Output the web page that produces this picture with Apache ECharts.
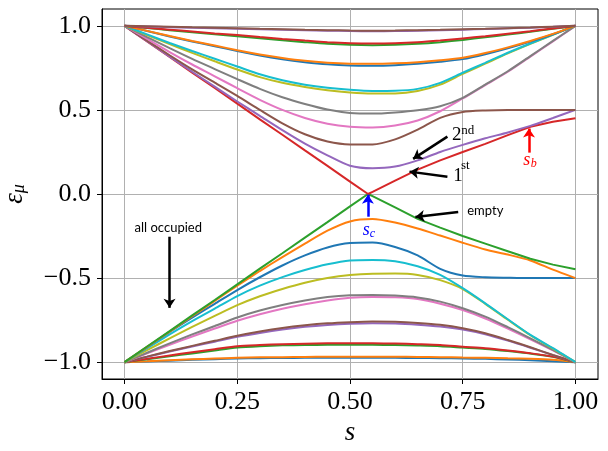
<!DOCTYPE html>
<html>
<head>
<meta charset="utf-8">
<script src="https://cdn.jsdelivr.net/npm/echarts@6/dist/echarts.min.js"></script>
<style>
  html, body { margin: 0; padding: 0; background: #fff; }
  #chart { width: 608px; height: 451px; }
</style>
</head>
<body>
<div id="chart"></div>
<script>
// sweep parameter s (shared grid) and a grid with the gap-closing point for the two middle levels
const s = [0, 0.05, 0.1, 0.15, 0.2, 0.25, 0.3, 0.35, 0.4, 0.45, 0.5,
           0.55, 0.6, 0.65, 0.7, 0.75, 0.8, 0.85, 0.9, 0.95, 1]
const sKink = [0, 0.05, 0.1, 0.15, 0.2, 0.25, 0.3, 0.35, 0.4, 0.45, 0.5, 0.54,
               0.55, 0.6, 0.65, 0.7, 0.75, 0.8, 0.85, 0.9, 0.95, 1]
const xTicks = [0, 0.25, 0.5, 0.75, 1]
const yTicks = [-1, -0.5, 0, 0.5, 1]

// single-particle levels eps_mu(s), mu = 0 (lowest) ... 25 (highest)
const e0 = [-1, -0.996, -0.991, -0.986, -0.982, -0.978, -0.976, -0.975, -0.974, -0.974, -0.974,
            -0.974, -0.974, -0.975, -0.976, -0.978, -0.98, -0.984, -0.988, -0.994, -1]
const e1 = [-1, -0.995, -0.989, -0.983, -0.978, -0.974, -0.971, -0.97, -0.969, -0.968, -0.968,
            -0.968, -0.968, -0.969, -0.97, -0.972, -0.974, -0.977, -0.98, -0.986, -1]
const e2 = [-1, -0.982, -0.965, -0.948, -0.93, -0.913, -0.905, -0.9, -0.898, -0.897, -0.897,
            -0.897, -0.898, -0.901, -0.905, -0.913, -0.921, -0.934, -0.949, -0.968, -1]
const e3 = [-1, -0.98, -0.96, -0.941, -0.923, -0.905, -0.898, -0.893, -0.89, -0.888, -0.887,
            -0.888, -0.889, -0.893, -0.898, -0.908, -0.917, -0.931, -0.947, -0.967, -1]
const e4 = [-1, -0.968, -0.937, -0.907, -0.878, -0.849, -0.826, -0.806, -0.79, -0.779, -0.772,
            -0.769, -0.77, -0.777, -0.788, -0.806, -0.834, -0.872, -0.914, -0.958, -1]
const e5 = [-1, -0.967, -0.934, -0.903, -0.873, -0.843, -0.818, -0.797, -0.781, -0.769, -0.762,
            -0.758, -0.76, -0.767, -0.778, -0.798, -0.828, -0.868, -0.911, -0.957, -1]
const e6 = [-1, -0.948, -0.897, -0.847, -0.8, -0.754, -0.715, -0.682, -0.655, -0.633, -0.617,
            -0.612, -0.614, -0.624, -0.652, -0.69, -0.74, -0.8, -0.864, -0.93, -1]
const e7 = [-1, -0.944, -0.888, -0.835, -0.785, -0.734, -0.693, -0.66, -0.633, -0.613, -0.602,
            -0.6, -0.604, -0.615, -0.64, -0.679, -0.729, -0.792, -0.858, -0.927, -1]
const e8 = [-1, -0.929, -0.858, -0.79, -0.725, -0.661, -0.608, -0.565, -0.528, -0.5, -0.482,
            -0.474, -0.473, -0.481, -0.512, -0.565, -0.653, -0.748, -0.84, -0.919, -1]
const e9 = [-1, -0.917, -0.835, -0.756, -0.682, -0.607, -0.545, -0.494, -0.452, -0.418, -0.395,
            -0.392, -0.4, -0.43, -0.481, -0.56, -0.65, -0.745, -0.838, -0.917, -1]
const e10 = [-1, -0.91, -0.82, -0.735, -0.653, -0.571, -0.495, -0.425, -0.365, -0.318, -0.292,
             -0.289, -0.315, -0.365, -0.445, -0.485, -0.495, -0.498, -0.5, -0.5, -0.5]
const e11 = [-1, -0.909, -0.818, -0.727, -0.636, -0.545, -0.458, -0.375, -0.295, -0.218, -0.163,
             -0.149, -0.17, -0.205, -0.247, -0.29, -0.33, -0.36, -0.395, -0.45, -0.5]
const e12 = [-1, -0.907, -0.815, -0.722, -0.63, -0.537, -0.444, -0.352, -0.259, -0.167, -0.074, 0,
             -0.013, -0.08, -0.148, -0.2, -0.25, -0.295, -0.34, -0.385, -0.42, -0.448]
const e13 = [1, 0.907, 0.815, 0.722, 0.63, 0.537, 0.444, 0.352, 0.259, 0.167, 0.074, 0,
             0.013, 0.08, 0.145, 0.2, 0.25, 0.298, 0.35, 0.4, 0.43, 0.45]
const e14 = [1, 0.908, 0.817, 0.727, 0.638, 0.55, 0.465, 0.38, 0.3, 0.23, 0.168,
             0.153, 0.163, 0.2, 0.25, 0.292, 0.331, 0.366, 0.405, 0.452, 0.5]
const e15 = [1, 0.912, 0.825, 0.741, 0.662, 0.583, 0.5, 0.42, 0.355, 0.312, 0.295,
             0.295, 0.325, 0.383, 0.453, 0.488, 0.497, 0.5, 0.5, 0.5, 0.5]
const e16 = [1, 0.922, 0.844, 0.77, 0.7, 0.629, 0.56, 0.5, 0.452, 0.418, 0.4,
             0.396, 0.407, 0.437, 0.492, 0.568, 0.648, 0.727, 0.817, 0.907, 1]
const e17 = [1, 0.933, 0.867, 0.803, 0.743, 0.683, 0.625, 0.575, 0.535, 0.502, 0.482,
             0.478, 0.485, 0.498, 0.522, 0.572, 0.651, 0.73, 0.82, 0.91, 1]
const e18 = [1, 0.945, 0.891, 0.839, 0.789, 0.74, 0.695, 0.661, 0.636, 0.617, 0.604,
             0.598, 0.598, 0.612, 0.65, 0.714, 0.775, 0.836, 0.893, 0.947, 1]
const e19 = [1, 0.949, 0.898, 0.85, 0.804, 0.758, 0.712, 0.676, 0.65, 0.632, 0.62,
             0.613, 0.614, 0.625, 0.661, 0.721, 0.78, 0.84, 0.895, 0.948, 1]
const e20 = [1, 0.969, 0.937, 0.907, 0.879, 0.85, 0.823, 0.801, 0.784, 0.771, 0.764,
             0.763, 0.766, 0.774, 0.786, 0.802, 0.831, 0.866, 0.906, 0.95, 1]
const e21 = [1, 0.97, 0.939, 0.91, 0.883, 0.855, 0.83, 0.809, 0.792, 0.781, 0.775,
             0.774, 0.777, 0.784, 0.795, 0.81, 0.838, 0.872, 0.91, 0.952, 1]
const e22 = [1, 0.987, 0.974, 0.962, 0.95, 0.938, 0.926, 0.914, 0.903, 0.893, 0.887,
             0.885, 0.887, 0.893, 0.903, 0.916, 0.932, 0.948, 0.965, 0.982, 1]
const e23 = [1, 0.988, 0.977, 0.966, 0.955, 0.945, 0.933, 0.922, 0.912, 0.903, 0.897,
             0.895, 0.897, 0.903, 0.913, 0.925, 0.938, 0.953, 0.968, 0.984, 1]
const e24 = [1, 0.996, 0.992, 0.988, 0.985, 0.982, 0.979, 0.976, 0.973, 0.971, 0.969,
             0.968, 0.969, 0.971, 0.974, 0.977, 0.981, 0.985, 0.989, 0.994, 1]
const e25 = [1, 0.997, 0.994, 0.991, 0.989, 0.986, 0.982, 0.979, 0.976, 0.974, 0.972,
             0.971, 0.972, 0.974, 0.976, 0.979, 0.982, 0.986, 0.990, 0.995, 1]

const levels = [e0, e1, e2, e3, e4, e5, e6, e7, e8, e9, e10, e11, e12,
                e13, e14, e15, e16, e17, e18, e19, e20, e21, e22, e23, e24, e25]
const palette = ['#1f77b4', '#ff7f0e', '#2ca02c', '#d62728', '#9467bd',
                 '#8c564b', '#e377c2', '#7f7f7f', '#bcbd22', '#17becf']

const serif = '"Liberation Serif", "DejaVu Serif", serif'
const sans = 'Lato, "Noto Sans", sans-serif'

const chart = echarts.init(document.getElementById('chart'))

const fmt = (ticks, digits) => v => {
  const hit = ticks.some(t => Math.abs(t - v) < 1e-6)
  return hit ? v.toFixed(digits).replace('-', '\u2212') : ''
}

const lineSeries = levels.map((vals, mu) => {
  const xs = vals.length === sKink.length ? sKink : s
  return {
    type: 'line',
    data: xs.map((x, i) => [x, vals[i]]),
    showSymbol: false,
    smooth: xs === sKink ? false : 0.25,
    lineStyle: { width: 2, color: palette[mu % 10] },
    itemStyle: { color: palette[mu % 10] },
    z: 2 + mu * 0.01,
    silent: true,
  }
})

// annotation arrows, [tail, head] in data coordinates
const arrows = [
  { coords: [[0.716, 0.341], [0.640, 0.209]], color: '#000' },
  { coords: [[0.716, 0.103], [0.632, 0.133]], color: '#000' },
  { coords: [[0.740, -0.107], [0.645, -0.137]], color: '#000' },
  { coords: [[0.0998, -0.254], [0.0998, -0.677]], color: '#000' },
  { coords: [[0.897, 0.246], [0.897, 0.389]], color: '#ff0000' },
  { coords: [[0.5397, -0.135], [0.5397, -0.004]], color: '#0000ff' },
]

chart.setOption({
  animation: false,
  backgroundColor: '#fff',
  grid: { left: 102, right: 10, top: 9, bottom: 72, show: true, borderColor: '#000', borderWidth: 1,
          containLabel: false, outerBoundsMode: 'none' },
  xAxis: {
    type: 'value', min: -0.05, max: 1.05, minInterval: 0.25, maxInterval: 0.25,
    name: 's', nameLocation: 'middle', nameGap: 36,
    nameTextStyle: { fontFamily: serif, fontStyle: 'italic', fontSize: 27, color: '#000' },
    axisLine: { show: true, onZero: false, lineStyle: { color: '#000', width: 1 } },
    axisTick: { show: true, length: 5, lineStyle: { color: '#000' }, customValues: xTicks },
    axisLabel: { fontFamily: serif, fontSize: 26, color: '#000', margin: 10,
                 formatter: fmt(xTicks, 2), customValues: xTicks },
    splitLine: { show: true, lineStyle: { color: '#b0b0b0', width: 1 } },
  },
  yAxis: {
    type: 'value', min: -1.1, max: 1.1, minInterval: 0.5, maxInterval: 0.5,
    name: '{e|\u03b5}{m|\u03bc}', nameLocation: 'middle', nameGap: 70, nameRotate: 90,
    nameTextStyle: {
      color: '#000',
      rich: {
        e: { fontFamily: serif, fontStyle: 'italic', fontSize: 27, lineHeight: 27, verticalAlign: 'top', padding: [0, 0, 5, 0] },
        m: { fontFamily: serif, fontStyle: 'italic', fontSize: 18, lineHeight: 18, verticalAlign: 'bottom' },
      },
    },
    axisLine: { show: true, onZero: false, lineStyle: { color: '#000', width: 1 } },
    axisTick: { show: true, length: 5, lineStyle: { color: '#000' }, customValues: yTicks },
    axisLabel: { fontFamily: serif, fontSize: 26, color: '#000', margin: 11,
                 formatter: fmt(yTicks, 1), customValues: yTicks },
    splitLine: { show: true, lineStyle: { color: '#b0b0b0', width: 1 } },
  },
  series: lineSeries.concat([{
    type: 'lines',
    coordinateSystem: 'cartesian2d',
    symbol: ['none', 'arrow'],
    symbolSize: 9,
    z: 5,
    silent: true,
    data: arrows.map(a => ({ coords: a.coords, lineStyle: { color: a.color, width: 2.5, opacity: 1 } })),
  }]),
})

// text annotations, anchored in data coordinates
const px = (x, y) => chart.convertToPixel({ gridIndex: 0 }, [x, y])
const label = (x, y, text, style, align) => {
  const p = px(x, y)
  return {
    type: 'text', x: p[0], y: p[1], z: 10,
    style: Object.assign({ text: text, fill: '#000', align: align || 'left', verticalAlign: 'middle' }, style),
  }
}
const cm = size => ({ fontFamily: serif, fontSize: size })
const cmi = size => ({ fontFamily: serif, fontSize: size, fontStyle: 'italic' })

chart.setOption({
  graphic: [
    label(0.726, 0.353, '2', cm(19)),
    label(0.7466, 0.38, 'nd', cm(13)),
    label(0.7288, 0.109, '1', cm(19)),
    label(0.746, 0.168, 'st', cm(13)),
    label(0.76, -0.0995, 'empty', { fontFamily: sans, fontSize: 13 }),
    label(0.0969, -0.2, 'all occupied', { fontFamily: sans, fontSize: 13 }, 'center'),
    label(0.884, 0.198, 's', Object.assign(cmi(18), { fill: '#ff0000' })),
    label(0.9007, 0.18, 'b', Object.assign(cmi(12), { fill: '#ff0000' })),
    label(0.528, -0.2186, 's', Object.assign(cmi(18), { fill: '#0000ff' })),
    label(0.5437, -0.2364, 'c', Object.assign(cmi(12), { fill: '#0000ff' })),
  ],
})
</script>
</body>
</html>
